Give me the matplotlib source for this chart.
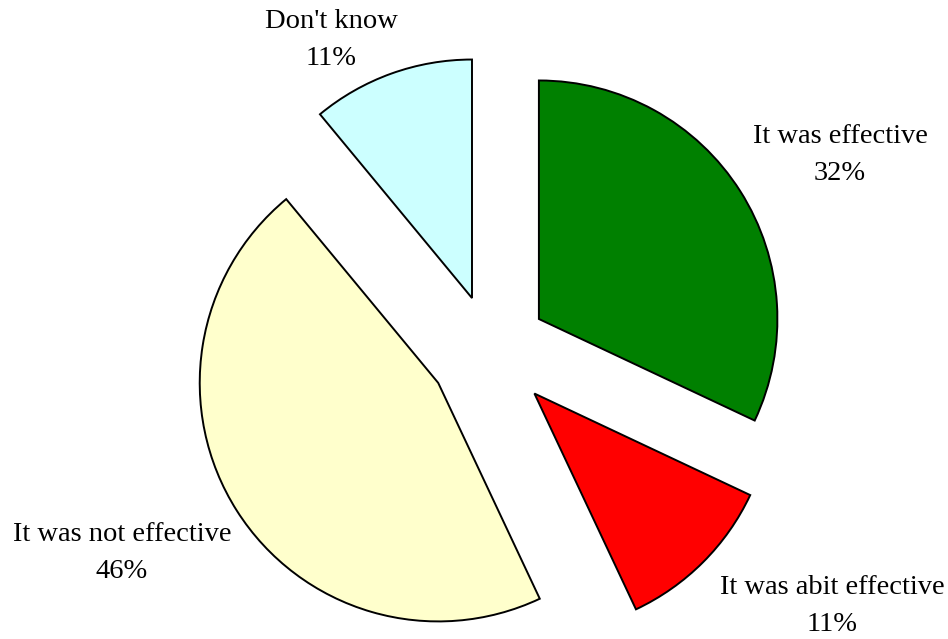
import matplotlib
matplotlib.use("Agg")
import matplotlib.pyplot as plt

# survey answers, clockwise from 12 o'clock
answers = ["It was effective", "It was abit effective", "It was not effective", "Don't know"]
shares = [32, 11, 46, 11]
colors = ["#008000", "#FF0000", "#FFFFCC", "#CCFFFF"]
explode = [0.24, 0.26, 0.26, 0.23]

# where each label block sits (data units, pie radius = 1)
label_xy = [(1.465, 0.817), (1.432, -1.075), (-1.545, -0.852), (-0.669, 1.299)]

plt.rcParams["font.family"] = ["Liberation Serif", "DejaVu Serif"]

fig = plt.figure(figsize=(9.48, 6.39), dpi=100)
ax = fig.add_axes([0, 0, 1, 1])

ax.pie(shares, colors=colors, explode=explode, startangle=90, counterclock=False,
       wedgeprops=dict(edgecolor="black", linewidth=1.4))

for name, val, (x, y) in zip(answers, shares, label_xy):
    ax.text(x, y, f"{name}\n{val}%", ha="center", va="center", fontsize=20.5,
            linespacing=1.6, color="black")

ax.set_xlim(-2.057, 1.918)
ax.set_ylim(-1.213, 1.466)
ax.set_aspect("auto")
ax.axis("off")

fig.savefig("out.png", dpi=100, facecolor="white")
